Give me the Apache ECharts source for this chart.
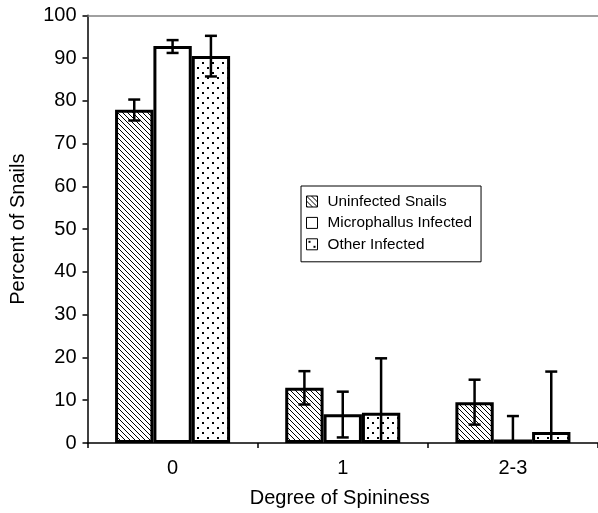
<!DOCTYPE html>
<html>
<head>
<meta charset="utf-8">
<script src="https://cdn.jsdelivr.net/npm/echarts@6/dist/echarts.min.js"></script>
<style>
html,body{margin:0;padding:0;background:#fff;}
#chart{width:598px;height:513px;}
</style>
</head>
<body>
<div id="chart"></div>
<script>
// ---- data ----
const categories = ['0', '1', '2-3'];
const seriesNames = ['Uninfected Snails', 'Microphallus Infected', 'Other Infected'];
const uninfected = [77.9, 12.9, 9.5];
const microphallus = [92.8, 6.7, 0.8];
const otherInfected = [90.5, 7.1, 2.6];
const uninfectedLow = [75.4, 9.0, 4.3];
const uninfectedHigh = [80.3, 16.8, 14.8];
const microphallusLow = [91.2, 1.3, -4.7];
const microphallusHigh = [94.2, 12.0, 6.3];
const otherLow = [85.7, -5.6, -11.5];
const otherHigh = [95.2, 19.8, 16.7];
const yTicks = [0, 10, 20, 30, 40, 50, 60, 70, 80, 90, 100];

// ---- patterns ----
function hatchPattern() {
  const n = 5;
  const c = document.createElement('canvas');
  c.width = n; c.height = n;
  const g = c.getContext('2d');
  g.fillStyle = '#fff'; g.fillRect(0, 0, n, n);
  g.fillStyle = '#000';
  for (let i = 0; i < n; i++) g.fillRect(i, i, 1, 1);
  return c;
}
function dotPattern() {
  const c = document.createElement('canvas');
  c.width = 10; c.height = 10;
  const g = c.getContext('2d');
  g.fillStyle = '#fff'; g.fillRect(0, 0, 10, 10);
  g.fillStyle = '#000';
  g.fillRect(2, 2, 2, 2);
  g.fillRect(7, 7, 2, 2);
  return c;
}
const fills = [
  { image: hatchPattern(), repeat: 'repeat' },
  '#ffffff',
  { image: dotPattern(), repeat: 'repeat' }
];

const GAP = 0.324;
const FONT = "'Liberation Sans', Arial, sans-serif";
const FS = 20;

function errSeries(idx, lows, highs) {
  return {
    type: 'custom',
    z: 10,
    silent: true,
    renderItem: function (params, api) {
      const cat = api.value(0);
      const band = api.size([1, 0])[0];
      const barW = band * (1 - GAP) / 3;
      const cx = api.coord([cat, 0])[0] + (idx - 1) * barW;
      const cs = params.coordSys;
      const bottomY = cs.y + cs.height;
      let yl = api.coord([cat, api.value(1)])[1];
      const yh = api.coord([cat, api.value(2)])[1];
      const style = { stroke: '#000', lineWidth: 2.5 };
      const children = [];
      const lowClipped = yl > bottomY;
      if (lowClipped) yl = bottomY;
      children.push({ type: 'line', shape: { x1: cx, y1: yl, x2: cx, y2: yh }, style: style });
      children.push({ type: 'line', shape: { x1: cx - 6, y1: yh, x2: cx + 6, y2: yh }, style: style });
      if (!lowClipped) children.push({ type: 'line', shape: { x1: cx - 6, y1: yl, x2: cx + 6, y2: yl }, style: style });
      return { type: 'group', children: children };
    },
    data: categories.map((c, i) => [i, lows[i], highs[i]])
  };
}

const valueSets = [uninfected, microphallus, otherInfected];
const barSeries = seriesNames.map((name, i) => ({
  name: name,
  type: 'bar',
  data: valueSets[i],
  barGap: '0%',
  barCategoryGap: (GAP * 100) + '%',
  itemStyle: { color: fills[i], borderColor: '#000', borderWidth: 3 },
  emphasis: { disabled: true },
  markLine: i === 0 ? {
    silent: true, symbol: 'none', label: { show: false },
    lineStyle: { color: '#808080', type: 'solid', width: 1.5 },
    data: [{ yAxis: yTicks[yTicks.length - 1] }]
  } : undefined
}));

const chart = echarts.init(document.getElementById('chart'), null, { renderer: 'canvas' });
chart.setOption({
  animation: false,
  backgroundColor: '#fff',
  textStyle: { fontFamily: FONT, color: '#000' },
  grid: { left: 87.5, top: 15.3, width: 515, height: 430.7, containLabel: false },
  legend: {
    data: seriesNames,
    orient: 'vertical',
    left: 301, top: 186,
    width: 180,
    padding: [8, 9, 10, 5],
    itemGap: 6.4,
    itemWidth: 11, itemHeight: 11,
    backgroundColor: '#fff',
    borderColor: '#000', borderWidth: 1,
    icon: 'rect',
    itemStyle: { borderWidth: 1, borderColor: '#000' },
    textStyle: { fontFamily: FONT, fontSize: 15.3, color: '#000', padding: [0, 0, 0, 5] },
    selectedMode: false
  },
  xAxis: {
    type: 'category',
    data: categories,
    name: 'Degree of Spininess',
    nameLocation: 'middle',
    nameGap: 45,
    nameTextStyle: { fontFamily: FONT, fontSize: FS, color: '#000', padding: [0, 6, 0, 0] },
    axisLine: { lineStyle: { color: '#000', width: 1.5 } },
    axisTick: { show: true, length: 5, lineStyle: { color: '#000', width: 1.5 } },
    axisLabel: { fontFamily: FONT, fontSize: FS, color: '#000', margin: 15 },
    splitLine: { show: false }
  },
  yAxis: {
    type: 'value',
    min: yTicks[0], max: yTicks[yTicks.length - 1], interval: 10,
    name: 'Percent of Snails',
    nameLocation: 'middle',
    nameGap: 59,
    nameTextStyle: { fontFamily: FONT, fontSize: FS, color: '#000' },
    axisLine: { show: true, lineStyle: { color: '#000', width: 1.5 } },
    axisTick: { show: true, length: 5, lineStyle: { color: '#000', width: 1.5 } },
    axisLabel: { fontFamily: FONT, fontSize: FS, color: '#000', margin: 11 },
    splitLine: { show: false }
  },
  series: barSeries.concat([
    errSeries(0, uninfectedLow, uninfectedHigh),
    errSeries(1, microphallusLow, microphallusHigh),
    errSeries(2, otherLow, otherHigh)
  ])
});
</script>
</body>
</html>
